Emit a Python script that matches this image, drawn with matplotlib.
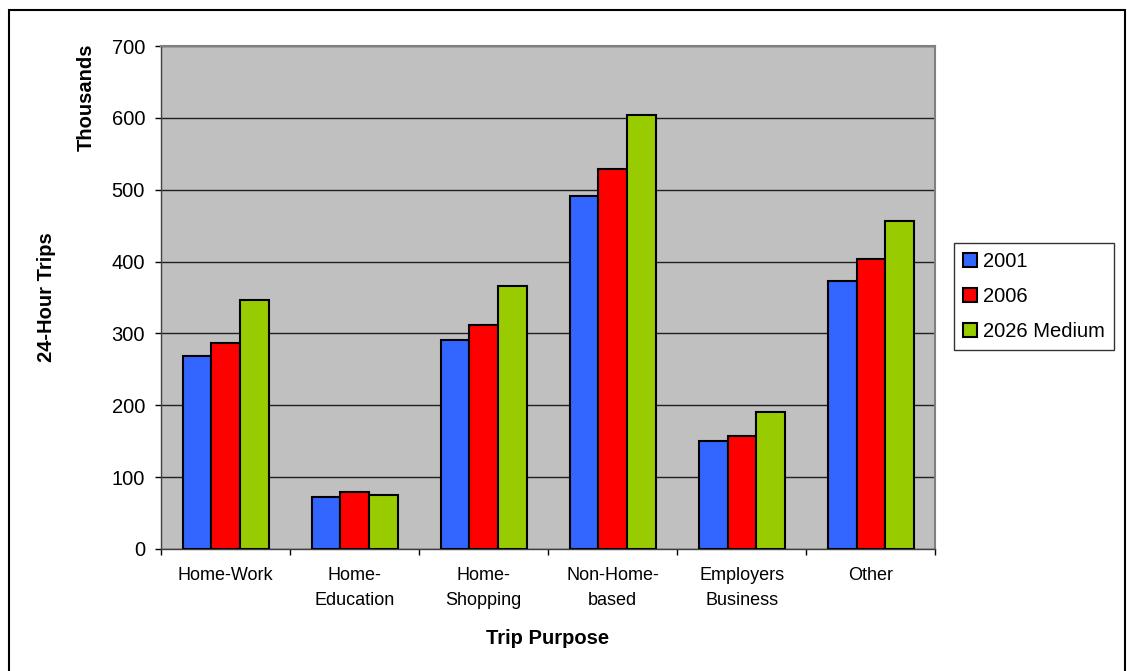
import numpy as np
import matplotlib.pyplot as plt
from matplotlib.patches import Rectangle

plt.rcParams["font.family"] = ["Liberation Sans", "DejaVu Sans"]

categories = ["Home-Work", "Home-\nEducation", "Home-\nShopping", "Non-Home-\nbased",
              "Employers\nBusiness", "Other"]
series_names = ["2001", "2006", "2026 Medium"]
trips_2001 = [268, 72, 291, 491, 150, 373]
trips_2006 = [286, 79, 312, 529, 157, 404]
trips_2026 = [347, 75, 366, 604, 190, 456]
colors = ["#3366FF", "#FF0000", "#99CC00"]

W, H = 1127, 671
fig = plt.figure(figsize=(W / 100, H / 100), dpi=100)
ax = fig.add_axes([161 / W, 1 - 549 / H, (935.5 - 161) / W, (549 - 46) / H])
ax.set_facecolor("#C0C0C0")

x = np.arange(len(categories))
bw = 0.222
for k, (vals, name, col) in enumerate(zip([trips_2001, trips_2006, trips_2026], series_names, colors)):
    ax.bar(x + (k - 1) * bw, vals, bw, color=col, edgecolor="black", linewidth=1.5,
           label=name, zorder=3)

ax.set_xlim(-0.5, len(categories) - 0.5)
ax.set_ylim(0, 700)
ax.set_yticks(range(0, 701, 100))
ax.yaxis.grid(True, color="#202020", linewidth=1.0, zorder=1)
ax.tick_params(axis="y", direction="out", length=4.5, width=1, labelsize=14.5, pad=7)

# category boundaries as ticks, labels centred
ax.set_xticks(np.arange(-0.5, len(categories), 1.0))
ax.set_xticklabels([])
ax.set_xticks(x, minor=True)
ax.set_xticklabels(categories, minor=True, fontsize=13, linespacing=1.6)
ax.tick_params(axis="x", which="major", direction="out", length=4.5, width=1)
ax.tick_params(axis="x", which="minor", length=0, pad=13)

for s in ["top", "right"]:
    ax.spines[s].set_color("#808080")
    ax.spines[s].set_linewidth(1.5)
for s in ["left", "bottom"]:
    ax.spines[s].set_color("#404040")
    ax.spines[s].set_linewidth(1.0)

fig.text(548 / W, 1 - 639 / H, "Trip Purpose", ha="center", va="center",
         fontsize=14.5, fontweight="bold")
fig.text(47 / W, 1 - 297 / H, "24-Hour Trips", ha="center", va="center",
         rotation=90, fontsize=14.5, fontweight="bold")
fig.text(86 / W, 1 - 97 / H, "Thousands", ha="center", va="center",
         rotation=90, fontsize=14.5, fontweight="bold")

leg = fig.legend(loc="upper left", bbox_to_anchor=(954 / W, 1 - 243 / H),
                 fontsize=14.5, frameon=True, fancybox=False, edgecolor="black",
                 handlelength=0.7, handleheight=0.7, handletextpad=0.3,
                 labelspacing=0.8, borderpad=0.45, borderaxespad=0)
leg.get_frame().set_linewidth(1.0)

fig.patches.append(Rectangle((9 / W, -0.1), (1125 - 9) / W, 1.1 - 10 / H,
                             transform=fig.transFigure, fill=False,
                             edgecolor="black", linewidth=1.5))

fig.savefig("out.png", dpi=100, facecolor="white")
